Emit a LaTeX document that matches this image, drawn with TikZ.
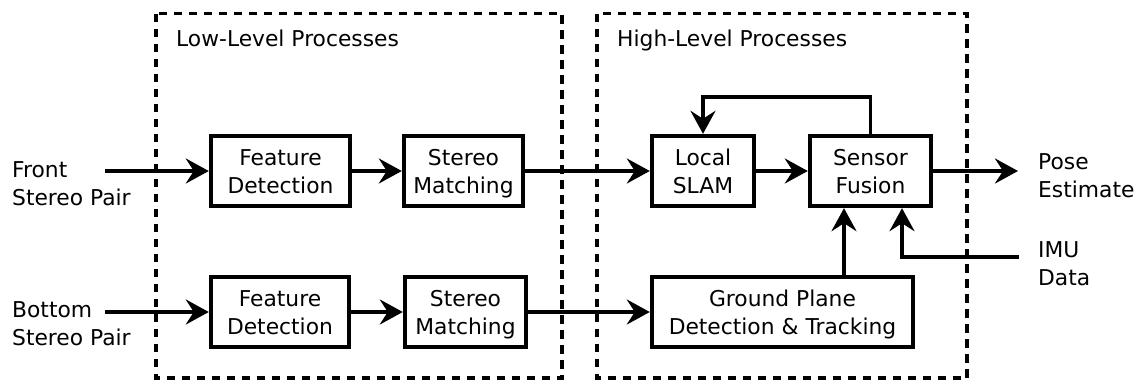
\documentclass[tikz,border=0pt]{standalone}
\usepackage{fontspec}
\setmainfont{DejaVu Sans}
\usetikzlibrary{arrows.meta}
\begin{document}
\begin{tikzpicture}[x=1pt,y=-1pt,
  every node/.style={font=\fontsize{21.8}{28}\selectfont},
  block/.style={draw, line width=3.9pt, align=center, inner sep=0pt,
    minimum height=70.5pt, text height=44pt, text depth=0pt},
  lbl/.style={align=left, inner sep=0pt},
  flow/.style={line width=3.5pt, -{Stealth[length=23pt,width=25pt,inset=8pt]}},
  group/.style={draw, line width=3.2pt, dash pattern=on 8.5pt off 6.5pt},
]
\useasboundingbox (0,0) rectangle (1143,383);

% process groups
\draw[group] (156,13.5) rectangle (562,378);
\draw[group] (597,13.5) rectangle (967,378);
\node[lbl, anchor=base west] (lowtitle) at (176,46) {Low-Level Processes};
\node[lbl, anchor=base west] (hightitle) at (617,46) {High-Level Processes};

% processing blocks
\node[block, minimum width=139.5pt] (fd1) at (280.5,171) {Feature\\Detection};
\node[block, minimum width=119.5pt] (sm1) at (463.5,171) {Stereo\\Matching};
\node[block, minimum width=102.5pt] (slam) at (703,171) {Local\\SLAM};
\node[block, minimum width=121.5pt] (sf) at (870.5,171) {Sensor\\Fusion};
\node[block, minimum width=138.5pt] (fd2) at (280,312) {Feature\\Detection};
\node[block, minimum width=121.5pt] (sm2) at (465.5,312) {Stereo\\Matching};
\node[block, minimum width=261.5pt] (gp) at (782.5,312) {Ground Plane\\Detection \& Tracking};

% inputs and outputs (base anchor sits on the last line)
\node[lbl, anchor=base west] (front) at (12,205) {Front\\Stereo Pair};
\node[lbl, anchor=base west] (bottom) at (12,345) {Bottom\\Stereo Pair};
\node[lbl, anchor=base west] (pose) at (1038,197) {Pose\\Estimate};
\node[lbl, anchor=base west] (imu) at (1038,285) {IMU\\Data};

\coordinate (fin) at (105,171);
\coordinate (bin) at (105,312);
\coordinate (pout) at (1018,171);
\coordinate (imuin) at (1019,257);
\coordinate (gpx) at (844,0);

% data flow
\draw[flow] (fin) -- (fd1);
\draw[flow] (fd1) -- (sm1);
\draw[flow] (sm1) -- (slam);
\draw[flow] (slam) -- (sf);
\draw[flow] (sf) -- (pout);
\draw[flow] (sf.north) -- ++(0,-37) -| (slam.north);
\draw[flow] (imuin) -| ([xshift=31.5pt]sf.south);
\draw[flow] (gp.north -| gpx) -- (sf.south -| gpx);
\draw[flow] (bin) -- (fd2);
\draw[flow] (fd2) -- (sm2);
\draw[flow] (sm2) -- (gp);
\end{tikzpicture}
\end{document}
